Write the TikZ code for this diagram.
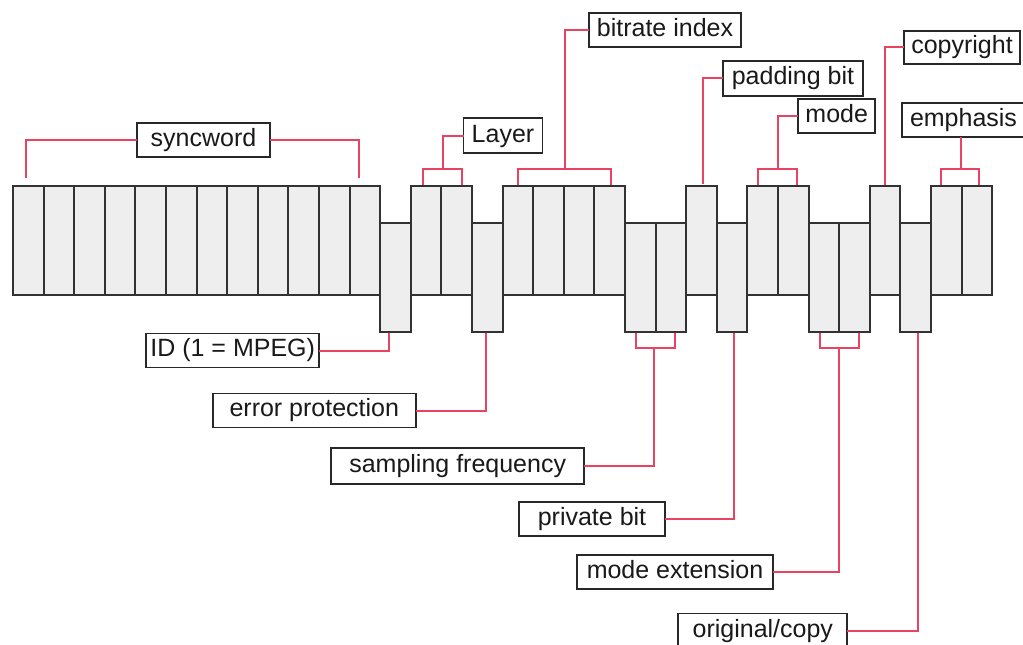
\documentclass[tikz,border=0pt]{standalone}
\usepackage{fontspec}
\setmainfont{Liberation Sans}
\usetikzlibrary{calc}

\definecolor{bitfill}{RGB}{238,238,238}
\definecolor{bitline}{RGB}{50,50,50}
\definecolor{leadred}{RGB}{232,68,98}
\definecolor{tagline}{RGB}{40,40,40}

\tikzset{
  bit/.style={draw=bitline, fill=bitfill, line width=1.9pt,
    minimum width=30.6pt, minimum height=109pt, inner sep=0pt, outer sep=0pt},
  tag/.style={draw=tagline, fill=white, line width=1.9pt, text=black!90,
    font=\fontsize{25}{28}\selectfont, text height=18.2pt, text depth=5.4pt,
    inner sep=0pt, outer sep=0pt},
  lead/.style={draw=leadred, line width=2pt},
}

\begin{document}
\begin{tikzpicture}[x=1pt, y=-1pt]
\useasboundingbox (0,0) rectangle (1023,645);

% 32 header bits: raised (u) and lowered (d) positions
\foreach \pos [count=\n from 0] in {u,u,u,u,u,u,u,u,u,u,u,u,d,u,u,d,u,u,u,u,d,d,u,d,u,u,d,d,u,d,u,u}{
  \if\pos u
    \node[bit] (b\n) at ({13+30.6*\n+15.3}, 240.5) {};
  \else
    \node[bit] (b\n) at ({13+30.6*\n+15.3}, 277.5) {};
  \fi
}

% field labels above the bits
\node[tag, minimum width=133pt, minimum height=34pt] (sync)   at (203.5,140)  {syncword};
\node[tag, minimum width=79pt,  minimum height=35pt] (layer)  at (503,135.8)  {Layer};
\node[tag, minimum width=152pt, minimum height=34pt] (brate)  at (665,30)     {bitrate index};
\node[tag, minimum width=140pt, minimum height=35pt] (pad)    at (793,78.3)   {padding bit};
\node[tag, minimum width=77pt,  minimum height=34pt] (mode)   at (836.7,116.3){mode};
\node[tag, minimum width=116pt, minimum height=33pt] (copy)   at (962,47.3)   {copyright};
\node[tag, minimum width=128pt, minimum height=34pt, text width=112pt, align=left] (emph) at (966,120) {emphasis};

% field labels below the bits
\node[tag, minimum width=173pt, minimum height=34pt] (id)     at (232.7,350.5){ID (1 = MPEG)};
\node[tag, minimum width=203pt, minimum height=34pt] (err)    at (314.3,410.5){error protection};
\node[tag, minimum width=253pt, minimum height=36pt] (samp)   at (457.7,465.8){sampling frequency};
\node[tag, minimum width=146pt, minimum height=34pt] (priv)   at (592,519)    {private bit};
\node[tag, minimum width=196pt, minimum height=34pt] (mext)   at (675,572)    {mode extension};
\node[tag, minimum width=169pt, minimum height=35pt] (orig)   at (762.8,631)  {original/copy};

% bracket joints
\coordinate (layerbr) at (442.5,169.3);
\coordinate (bratebr) at (565,169.3);
\coordinate (modebr)  at (777.5,169.3);
\coordinate (emphbr)  at (961,169.3);
\coordinate (sampbr)  at (654.3,347.7);
\coordinate (mextbr)  at (839,347.7);

% syncword span
\draw[lead] (sync.west) -| ($(b0.north)+(-2,-8)$);
\draw[lead] (sync.east) -| ($(b11.north)+(-6,-8)$);

% upper leaders
\draw[lead] (layer.west) -| (layerbr);
\draw[lead] (422.7,185) |- (layerbr) -| (461.7,185);
\draw[lead] (brate.west) -| (bratebr);
\draw[lead] (518.3,185) |- (bratebr) -| (611,185);
\draw[lead] (pad.west) -| ($(b22.north)+(1.4,-2)$);
\draw[lead] (mode.west) -| (modebr);
\draw[lead] (758.3,185) |- (modebr) -| (796.7,185);
\draw[lead] (copy.west) -| ($(b28.north)+(0,-1)$);
\draw[lead] (emph.south -| emphbr) -- (emphbr);
\draw[lead] (940.7,185) |- (emphbr) -| (979,185);

% lower leaders
\draw[lead] (id.east) -| ($(b12.south)+(-6.2,1)$);
\draw[lead] (err.east) -| ($(b15.south)+(-1.3,1)$);
\draw[lead] (samp.east) -| (sampbr);
\draw[lead] (636,333) |- (sampbr) -| (675,333);
\draw[lead] (priv.east) -| ($(b23.south)+(2,1)$);
\draw[lead] (mext.east) -| (mextbr);
\draw[lead] (820,333) |- (mextbr) -| (859,333);
\draw[lead] (orig.east) -| ($(b29.south)+(2,1)$);
\end{tikzpicture}
\end{document}
